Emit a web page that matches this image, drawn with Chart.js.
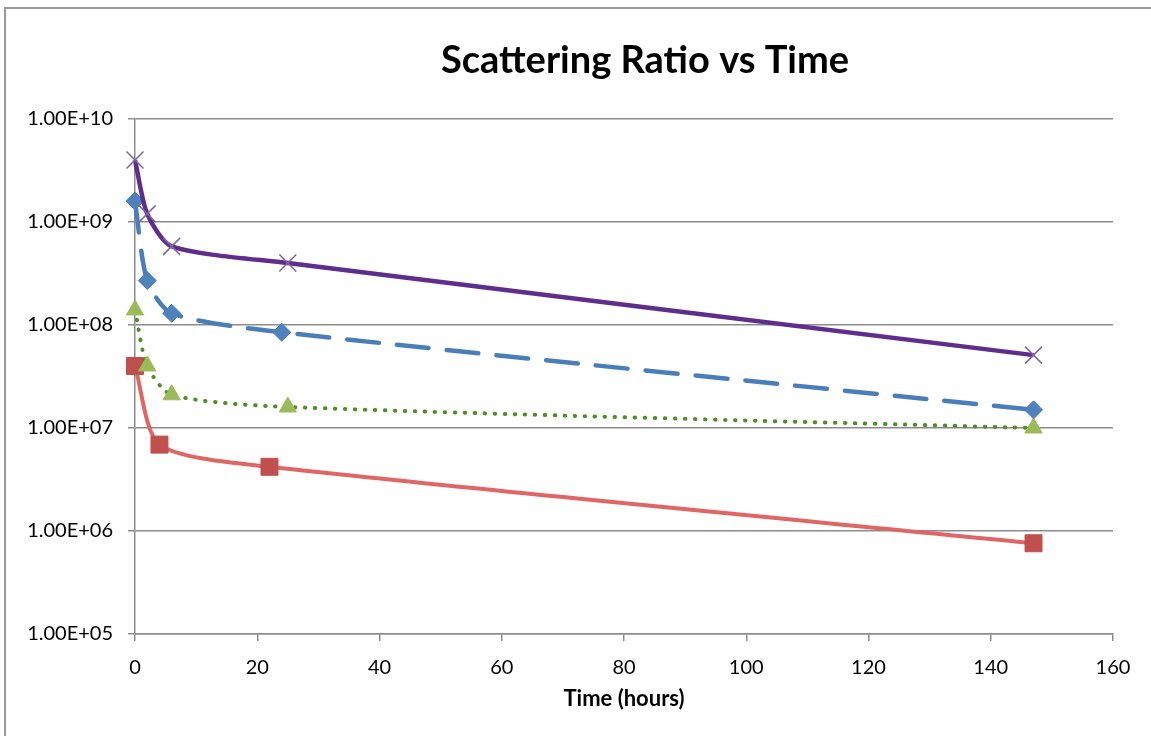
<!DOCTYPE html>
<html>
<head>
<meta charset="utf-8">
<script src="https://cdn.jsdelivr.net/npm/chart.js@4/dist/chart.umd.min.js"></script>
<style>
  html, body { margin: 0; padding: 0; background: #fff; }
  #wrap { width: 1151px; height: 736px; position: relative; }
</style>
</head>
<body>
<div id="wrap"><canvas id="ratio-chart"></canvas></div>
<script>
// Scattering ratio measurements over time (log scale)
const yTicks = [1e5, 1e6, 1e7, 1e8, 1e9, 1e10];
const xTicks = [0, 20, 40, 60, 80, 100, 120, 140, 160];

const purpleHours = [0, 2, 6, 25, 147];
const purpleRatio = [4.0e9, 1.2e9, 5.8e8, 4.0e8, 5.1e7];

const blueHours = [0, 2, 6, 24, 147];
const blueRatio = [1.6e9, 2.7e8, 1.3e8, 8.5e7, 1.5e7];

const greenHours = [0, 2, 6, 25, 147];
const greenRatio = [1.4e8, 4.0e7, 2.1e7, 1.6e7, 1.0e7];

const redHours = [0, 4, 22, 147];
const redRatio = [4.0e7, 6.9e6, 4.2e6, 7.6e5];

const FONT = 'Lato';
const GRID = '#8c8c8c';
const SMOOTH = 0.25;

function toPoints(xs, ys) {
  return xs.map((x, i) => ({ x: x, y: ys[i] }));
}

function sciLabel(v) {
  const exp = Math.round(Math.log10(v));
  const mant = (v / Math.pow(10, exp)).toFixed(2);
  const sign = exp < 0 ? '-' : '+';
  return mant + 'E' + sign + String(Math.abs(exp)).padStart(2, '0');
}

// outer frame + title drawn on the canvas
const framePlugin = {
  id: 'frame',
  beforeDraw(chart) {
    const c = chart.ctx;
    c.save();
    c.strokeStyle = '#9a9a9a';
    c.lineWidth = 2;
    c.strokeRect(5, 8, chart.width + 20, chart.height + 20);
    c.restore();
  },
  afterDraw(chart) {
    const c = chart.ctx;
    c.save();
    c.fillStyle = '#000';
    c.font = 'bold 38px ' + FONT;
    c.textAlign = 'center';
    c.textBaseline = 'alphabetic';
    c.fillText('Scattering Ratio vs Time', 645, 73);
    c.restore();
  }
};

const ctx = document.getElementById('ratio-chart').getContext('2d');

new Chart(ctx, {
  type: 'scatter',
  data: {
    datasets: [
      {
        label: 'Series 4',
        data: toPoints(purpleHours, purpleRatio),
        showLine: true,
        borderColor: '#5f2d8c',
        borderWidth: 4.5,
        tension: SMOOTH,
        pointStyle: 'crossRot',
        pointRadius: 12,
        pointBorderWidth: 1.5,
        pointBorderColor: '#8064a2',
        pointBackgroundColor: '#8064a2',
        clip: false
      },
      {
        label: 'Series 1',
        data: toPoints(blueHours, blueRatio),
        showLine: true,
        borderColor: '#4a7ebb',
        borderWidth: 4.5,
        borderDash: [32, 18],
        borderCapStyle: 'round',
        tension: SMOOTH,
        pointStyle: 'rectRot',
        pointRadius: 9,
        pointBorderWidth: 1,
        pointBorderColor: '#4a7ebb',
        pointBackgroundColor: '#4f81bd',
        clip: false
      },
      {
        label: 'Series 3',
        data: toPoints(greenHours, greenRatio),
        showLine: true,
        borderColor: '#4e8f24',
        borderWidth: 4,
        borderDash: [0.5, 9.5],
        borderCapStyle: 'round',
        tension: SMOOTH,
        pointStyle: 'triangle',
        pointRadius: 10,
        pointBorderWidth: 1,
        pointBorderColor: '#9bbb59',
        pointBackgroundColor: '#9bbb59',
        clip: false
      },
      {
        label: 'Series 2',
        data: toPoints(redHours, redRatio),
        showLine: true,
        borderColor: '#e06666',
        borderWidth: 4,
        tension: SMOOTH,
        pointStyle: 'rect',
        pointRadius: 12,
        pointBorderWidth: 1,
        pointBorderColor: '#c0504d',
        pointBackgroundColor: '#c0504d',
        clip: false
      }
    ]
  },
  options: {
    responsive: true,
    maintainAspectRatio: false,
    animation: false,
    layout: { padding: { top: 119, left: 0, right: 38, bottom: 0 } },
    plugins: {
      legend: { display: false },
      title: { display: false },
      tooltip: { enabled: false }
    },
    scales: {
      x: {
        type: 'linear',
        min: 0,
        max: 160,
        afterBuildTicks(scale) {
          scale.ticks = xTicks.map(v => ({ value: v }));
        },
        afterFit(scale) { scale.height = 102; },
        grid: {
          drawOnChartArea: false,
          drawTicks: true,
          tickLength: 7,
          color: GRID,
          lineWidth: 1.5
        },
        border: { color: GRID, width: 1.5 },
        ticks: {
          color: '#000',
          padding: 15,
          maxRotation: 0,
          font: { family: FONT, size: 20 }
        },
        title: {
          display: true,
          text: 'Time (hours)',
          color: '#000',
          padding: { top: 0, bottom: 24 },
          font: { family: FONT, size: 22, weight: 'bold' }
        }
      },
      y: {
        type: 'logarithmic',
        min: 1e5,
        max: 1e10,
        afterBuildTicks(scale) {
          scale.ticks = yTicks.map(v => ({ value: v }));
        },
        afterFit(scale) { scale.width = 135; },
        grid: {
          drawOnChartArea: true,
          tickLength: 7,
          color: GRID,
          lineWidth: 1.5
        },
        border: { color: GRID, width: 1.5 },
        ticks: {
          color: '#000',
          padding: 15,
          font: { family: FONT, size: 20 },
          callback: function(value) { return sciLabel(value); }
        }
      }
    }
  },
  plugins: [framePlugin]
});
</script>
</body>
</html>
